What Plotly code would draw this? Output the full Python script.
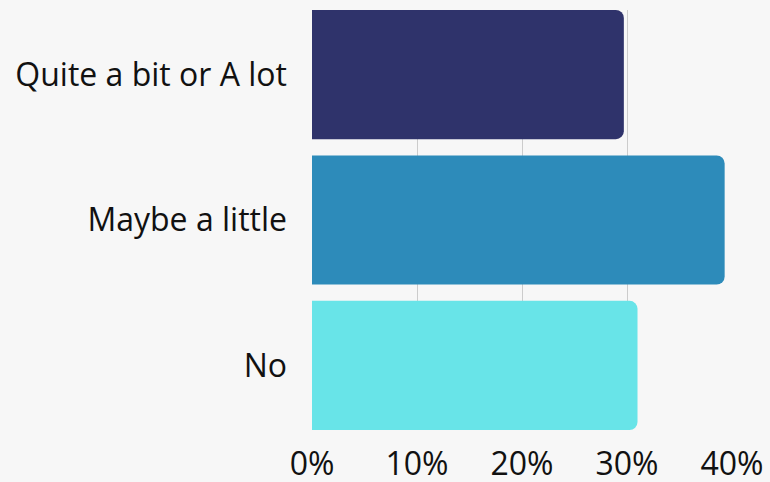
import plotly.graph_objects as go

categories = ["Quite a bit or A lot", "Maybe a little", "No"]
shares = [29.7, 39.3, 31.0]
colors = ["#2f336b", "#2d8bba", "#68e4e8"]
tick_vals = [0, 10, 20, 30, 40]
tick_text = ["0%", "10%", "20%", "30%", "40%"]

fig = go.Figure(
    go.Bar(
        x=shares,
        y=categories,
        orientation="h",
        marker=dict(color=colors, cornerradius=8, line=dict(width=0)),
        hoverinfo="skip",
    )
)

fig.update_layout(
    width=770,
    height=482,
    margin=dict(l=312, r=38, t=10, b=52),
    paper_bgcolor="#f7f7f7",
    plot_bgcolor="#f7f7f7",
    font=dict(family="Open Sans", size=32, color="#111111"),
    bargap=0.112,
    showlegend=False,
)
fig.update_xaxes(
    range=[0, 40],
    tickvals=tick_vals,
    ticktext=tick_text,
    showgrid=True,
    gridcolor="#cccccc",
    gridwidth=1,
    zeroline=False,
    showline=False,
    ticks="",
    ticklabelstandoff=12,
    automargin=False,
)
fig.update_yaxes(
    categoryorder="array",
    categoryarray=categories,
    autorange=False,
    range=[2.444, -0.444],
    showgrid=False,
    zeroline=False,
    showline=False,
    ticks="",
    ticklabelstandoff=24,
    automargin=False,
)

fig.write_html("out.html")
